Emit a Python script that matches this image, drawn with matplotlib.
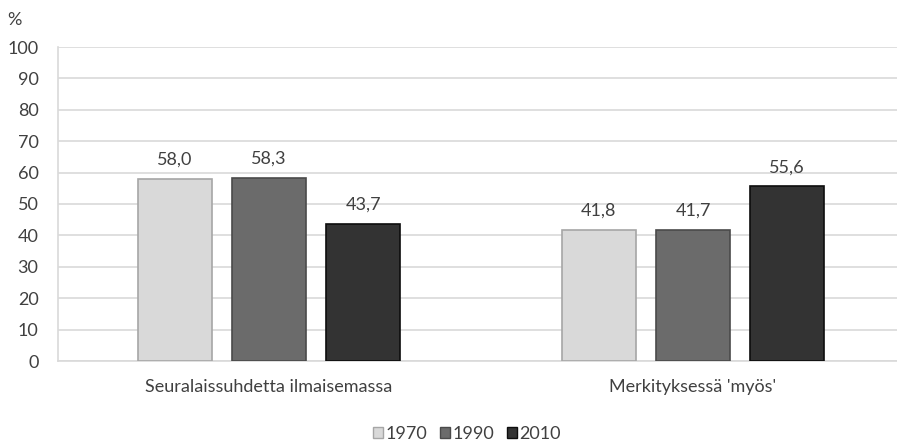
import numpy as np
import matplotlib
matplotlib.use("Agg")
import matplotlib.pyplot as plt
from matplotlib.patches import Patch

# data
categories = ["Seuralaissuhdetta ilmaisemassa", "Merkityksessä 'myös'"]
years = ["1970", "1990", "2010"]
v1970 = [58.0, 41.8]
v1990 = [58.3, 41.7]
v2010 = [43.7, 55.6]

plt.rcParams['font.family'] = ['Lato', 'DejaVu Sans']
txt = "#404040"
fs = 13

fig = plt.figure(figsize=(8.97, 4.44), dpi=100)
ax = fig.add_axes([58 / 897, 83 / 444, 839 / 897, 314 / 444])

x = np.arange(len(categories))
w = 0.175
off = 0.222
series = [v1970, v1990, v2010]
faces = ["#d9d9d9", "#6b6b6b", "#333333"]
edges = ["#a6a6a6", "#4a4a4a", "#0d0d0d"]

for i, vals in enumerate(series):
    bars = ax.bar(x + (i - 1) * off, vals, width=w, color=faces[i],
                  edgecolor=edges[i], linewidth=1.2, zorder=3)
    for b, v in zip(bars, vals):
        ax.annotate(f"{v:.1f}".replace(".", ","),
                    (b.get_x() + b.get_width() / 2, v),
                    xytext=(0, 8), textcoords="offset points",
                    ha="center", va="bottom", fontsize=fs, color=txt)

ax.set_xlim(-0.4976, 1.481)
ax.set_ylim(0, 100)
ax.set_yticks(range(0, 101, 10))
ax.grid(axis="y", color="#d9d9d9", linewidth=1.2, zorder=0)
for s in ["top", "right"]:
    ax.spines[s].set_visible(False)
ax.spines["left"].set_color("#d9d9d9")
ax.spines["bottom"].set_color("#d9d9d9")
ax.spines["left"].set_linewidth(1.2)
ax.spines["bottom"].set_linewidth(1.2)
ax.tick_params(axis="both", length=0, labelsize=fs, labelcolor=txt)
ax.tick_params(axis="y", pad=14)
ax.tick_params(axis="x", pad=13)
ax.set_xticks(x)
ax.set_xticklabels(categories)

fig.text(14 / 897, 1 - 20 / 444, "%", ha="center", va="center",
         fontsize=fs, color=txt)

handles = [Patch(facecolor=faces[i], edgecolor=edges[i], label=years[i])
           for i in range(3)]
fig.legend(handles=handles, loc="center", bbox_to_anchor=(467 / 897, 1 - 434 / 444),
           ncol=3, frameon=False, fontsize=fs, handlelength=0.55, handleheight=0.55,
           handletextpad=0.15, columnspacing=0.7, labelcolor=txt)

fig.savefig("out.png", dpi=100)
